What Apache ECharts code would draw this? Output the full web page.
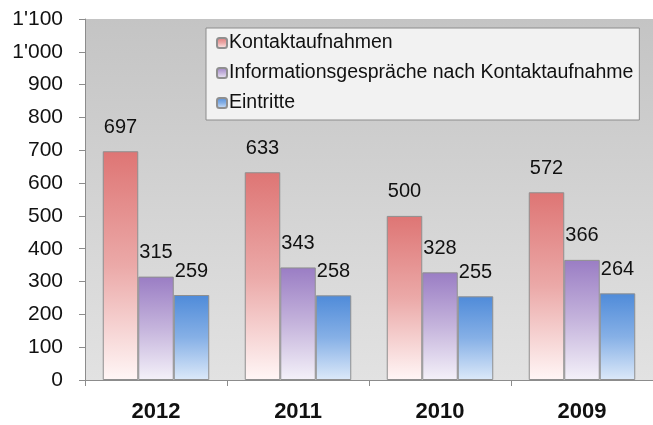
<!DOCTYPE html>
<html>
<head>
<meta charset="utf-8">
<script src="https://cdn.jsdelivr.net/npm/echarts@6/dist/echarts.min.js"></script>
<style>
  html, body { margin: 0; padding: 0; background: #fff; }
  .chart { width: 653px; height: 425px; }
</style>
</head>
<body>
<div class="chart"></div>
<script>
// Daten
var jahre = ['2012', '2011', '2010', '2009'];
var kontakt = [697, 633, 500, 572];
var gespraeche = [315, 343, 328, 366];
var eintritte = [259, 258, 255, 264];
var serienNamen = ['Kontaktaufnahmen', 'Informationsgespräche nach Kontaktaufnahme', 'Eintritte'];

// Verlauf von oben (Farbe) nach unten (fast weiss)
function verlauf(oben, mitte, unten) {
  return new echarts.graphic.LinearGradient(0, 0, 0, 1, [
    { offset: 0, color: oben },
    { offset: 0.5, color: mitte },
    { offset: 1, color: unten }
  ]);
}

var chart = echarts.init(document.querySelector('.chart'));

var label = {
  show: true,
  position: 'top',
  distance: 14,
  color: '#111',
  fontFamily: 'Liberation Sans',
  fontSize: 20
};

var option = {
  animation: false,
  grid: {
    left: 85, top: 19, right: -6, bottom: 45,
    show: true,
    borderWidth: 0,
    backgroundColor: new echarts.graphic.LinearGradient(0, 0, 0, 1, [
      { offset: 0, color: '#c4c4c4' },
      { offset: 1, color: '#e2e2e2' }
    ])
  },
  legend: {
    orient: 'vertical',
    left: 206, top: 28,
    padding: [5, 6, 7, 10],
    itemGap: 10,
    itemWidth: 10, itemHeight: 10,
    backgroundColor: '#f2f2f2',
    borderColor: '#8c8c8c',
    borderWidth: 1,
    textStyle: {
      fontFamily: 'Liberation Sans',
      fontSize: 19.5,
      color: '#111',
      padding: [0, 0, 0, -3]
    },
    data: serienNamen
  },
  xAxis: {
    type: 'category',
    data: jahre,
    axisLine: { lineStyle: { color: '#8c8c8c', width: 1 } },
    axisTick: { show: true, length: 6, lineStyle: { color: '#8c8c8c' } },
    axisLabel: {
      margin: 21,
      color: '#111',
      fontWeight: 'bold',
      fontFamily: 'Liberation Sans',
      fontSize: 22
    }
  },
  yAxis: {
    type: 'value',
    min: 0, max: 1100, interval: 100,
    splitLine: { show: false },
    axisLine: { show: true, lineStyle: { color: '#8c8c8c', width: 1 } },
    axisTick: { show: true, length: 6, lineStyle: { color: '#8c8c8c' } },
    axisLabel: {
      margin: 22,
      color: '#111',
      fontFamily: 'Liberation Sans',
      fontSize: 21,
      formatter: function (v) {
        return v >= 1000 ? Math.floor(v / 1000) + "'" + String(v % 1000).padStart(3, '0') : String(v);
      }
    }
  },
  series: [
    {
      name: serienNamen[0],
      type: 'bar',
      barGap: '0%',
      barCategoryGap: '25%',
      data: kontakt,
      label: label,
      itemStyle: {
        color: verlauf('#de7574', '#eba9a8', '#fff6f6'),
        borderColor: '#8f8f8f',
        borderWidth: 1
      }
    },
    {
      name: serienNamen[1],
      type: 'bar',
      data: gespraeche,
      label: label,
      itemStyle: {
        color: verlauf('#9a7dc4', '#c5b4dc', '#f4f1f9'),
        borderColor: '#8f8f8f',
        borderWidth: 1
      }
    },
    {
      name: serienNamen[2],
      type: 'bar',
      data: eintritte,
      label: label,
      itemStyle: {
        color: verlauf('#4f8bd9', '#86b0e6', '#dce9f9'),
        borderColor: '#8f8f8f',
        borderWidth: 1
      }
    }
  ]
};

chart.setOption(option);
</script>
</body>
</html>
